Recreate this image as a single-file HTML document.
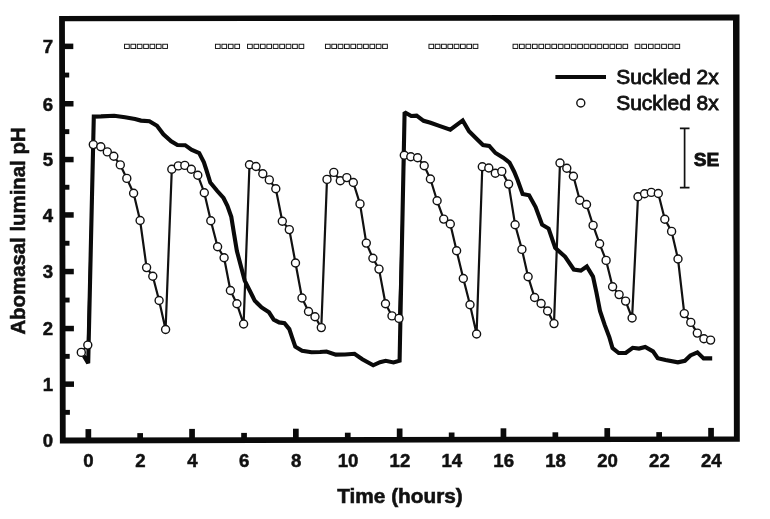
<!DOCTYPE html>
<html><head><meta charset="utf-8"><title>Abomasal luminal pH</title>
<style>
html,body{margin:0;padding:0;background:#fff;}
body{width:770px;height:519px;overflow:hidden;}
svg{display:block;filter:grayscale(1);}
text{font-family:"Liberation Sans",Arial,sans-serif;fill:#111;}
.b{font-weight:bold;}
</style></head><body>
<svg width="770" height="519" viewBox="0 0 770 519">
<rect x="0" y="0" width="770" height="519" fill="#fff"/>
<path fill-rule="evenodd" fill="#0a0a0a" d="M59.1 16L739.5 14.5L739.8 441.8L59.9 443.4ZM64.9 21.2L65.7 437.6L733.9 436.4L733 20.6Z"/>
<rect x="62" y="43.6" width="11.3" height="5.5" fill="#0a0a0a"/>
<rect x="62" y="101.0" width="11.5" height="5.5" fill="#0a0a0a"/>
<rect x="62" y="156.8" width="11.6" height="5.5" fill="#0a0a0a"/>
<rect x="62" y="212.2" width="11.7" height="5.5" fill="#0a0a0a"/>
<rect x="62" y="268.8" width="11.8" height="5.5" fill="#0a0a0a"/>
<rect x="62" y="325.8" width="11.9" height="5.5" fill="#0a0a0a"/>
<rect x="62" y="381.4" width="12.0" height="5.5" fill="#0a0a0a"/>
<rect x="62" y="409.9" width="7.9" height="4.9" fill="#0a0a0a"/>
<rect x="62" y="353.9" width="7.7" height="4.9" fill="#0a0a0a"/>
<rect x="62" y="297.6" width="7.6" height="4.9" fill="#0a0a0a"/>
<rect x="62" y="240.8" width="7.5" height="4.9" fill="#0a0a0a"/>
<rect x="62" y="184.8" width="7.4" height="4.9" fill="#0a0a0a"/>
<rect x="62" y="129.2" width="7.3" height="4.9" fill="#0a0a0a"/>
<rect x="62" y="72.6" width="7.2" height="4.9" fill="#0a0a0a"/>
<rect x="85.5" y="429.1" width="5.7" height="10.5" fill="#0a0a0a"/>
<rect x="137.3" y="433.1" width="5.7" height="6.4" fill="#0a0a0a"/>
<rect x="189.2" y="428.9" width="5.7" height="10.5" fill="#0a0a0a"/>
<rect x="241.2" y="432.9" width="5.7" height="6.4" fill="#0a0a0a"/>
<rect x="293.0" y="428.7" width="5.7" height="10.5" fill="#0a0a0a"/>
<rect x="344.9" y="432.7" width="5.7" height="6.4" fill="#0a0a0a"/>
<rect x="396.8" y="428.5" width="5.7" height="10.5" fill="#0a0a0a"/>
<rect x="448.8" y="432.5" width="5.7" height="6.4" fill="#0a0a0a"/>
<rect x="500.6" y="428.3" width="5.7" height="10.5" fill="#0a0a0a"/>
<rect x="552.5" y="432.3" width="5.7" height="6.4" fill="#0a0a0a"/>
<rect x="604.4" y="428.1" width="5.7" height="10.5" fill="#0a0a0a"/>
<rect x="656.3" y="432.1" width="5.7" height="6.4" fill="#0a0a0a"/>
<rect x="708.2" y="427.9" width="5.7" height="10.5" fill="#0a0a0a"/>
<text class="b" x="53.2" y="53.1" font-size="18.6" text-anchor="end" stroke="#111" stroke-width="0.5">7</text>
<text class="b" x="53.2" y="110.5" font-size="18.6" text-anchor="end" stroke="#111" stroke-width="0.5">6</text>
<text class="b" x="53.2" y="166.2" font-size="18.6" text-anchor="end" stroke="#111" stroke-width="0.5">5</text>
<text class="b" x="53.2" y="221.7" font-size="18.6" text-anchor="end" stroke="#111" stroke-width="0.5">4</text>
<text class="b" x="53.2" y="278.2" font-size="18.6" text-anchor="end" stroke="#111" stroke-width="0.5">3</text>
<text class="b" x="53.2" y="335.2" font-size="18.6" text-anchor="end" stroke="#111" stroke-width="0.5">2</text>
<text class="b" x="53.2" y="390.8" font-size="18.6" text-anchor="end" stroke="#111" stroke-width="0.5">1</text>
<text class="b" x="53.2" y="447.2" font-size="18.6" text-anchor="end" stroke="#111" stroke-width="0.5">0</text>
<text class="b" x="88.5" y="467.1" font-size="18.6" text-anchor="middle" stroke="#111" stroke-width="0.5">0</text>
<text class="b" x="140.4" y="467.1" font-size="18.6" text-anchor="middle" stroke="#111" stroke-width="0.5">2</text>
<text class="b" x="192.3" y="467.1" font-size="18.6" text-anchor="middle" stroke="#111" stroke-width="0.5">4</text>
<text class="b" x="244.2" y="467.1" font-size="18.6" text-anchor="middle" stroke="#111" stroke-width="0.5">6</text>
<text class="b" x="296.1" y="467.1" font-size="18.6" text-anchor="middle" stroke="#111" stroke-width="0.5">8</text>
<text class="b" x="348.0" y="467.1" font-size="18.6" text-anchor="middle" stroke="#111" stroke-width="0.5">10</text>
<text class="b" x="399.9" y="467.1" font-size="18.6" text-anchor="middle" stroke="#111" stroke-width="0.5">12</text>
<text class="b" x="451.8" y="467.1" font-size="18.6" text-anchor="middle" stroke="#111" stroke-width="0.5">14</text>
<text class="b" x="503.7" y="467.1" font-size="18.6" text-anchor="middle" stroke="#111" stroke-width="0.5">16</text>
<text class="b" x="555.6" y="467.1" font-size="18.6" text-anchor="middle" stroke="#111" stroke-width="0.5">18</text>
<text class="b" x="607.5" y="467.1" font-size="18.6" text-anchor="middle" stroke="#111" stroke-width="0.5">20</text>
<text class="b" x="659.4" y="467.1" font-size="18.6" text-anchor="middle" stroke="#111" stroke-width="0.5">22</text>
<text class="b" x="711.3" y="467.1" font-size="18.6" text-anchor="middle" stroke="#111" stroke-width="0.5">24</text>
<text class="b" x="337.2" y="503.4" font-size="19.5" textLength="125.6" lengthAdjust="spacingAndGlyphs" stroke="#111" stroke-width="0.55">Time (hours)</text>
<text class="b" transform="translate(24.5,334.6) rotate(-90)" font-size="20" textLength="207.2" lengthAdjust="spacingAndGlyphs" stroke="#111" stroke-width="0.55">Abomasal luminal pH</text>
<rect x="124.55" y="44.25" width="4.7" height="4.2" fill="#fff" stroke="#111" stroke-width="0.95"/>
<rect x="130.92" y="44.25" width="4.7" height="4.2" fill="#fff" stroke="#111" stroke-width="0.95"/>
<rect x="137.28" y="44.25" width="4.7" height="4.2" fill="#fff" stroke="#111" stroke-width="0.95"/>
<rect x="143.65" y="44.25" width="4.7" height="4.2" fill="#fff" stroke="#111" stroke-width="0.95"/>
<rect x="150.02" y="44.25" width="4.7" height="4.2" fill="#fff" stroke="#111" stroke-width="0.95"/>
<rect x="156.38" y="44.25" width="4.7" height="4.2" fill="#fff" stroke="#111" stroke-width="0.95"/>
<rect x="162.75" y="44.25" width="4.7" height="4.2" fill="#fff" stroke="#111" stroke-width="0.95"/>
<rect x="215.45" y="44.25" width="4.7" height="4.2" fill="#fff" stroke="#111" stroke-width="0.95"/>
<rect x="221.92" y="44.25" width="4.7" height="4.2" fill="#fff" stroke="#111" stroke-width="0.95"/>
<rect x="228.38" y="44.25" width="4.7" height="4.2" fill="#fff" stroke="#111" stroke-width="0.95"/>
<rect x="234.85" y="44.25" width="4.7" height="4.2" fill="#fff" stroke="#111" stroke-width="0.95"/>
<rect x="247.55" y="44.25" width="4.7" height="4.2" fill="#fff" stroke="#111" stroke-width="0.95"/>
<rect x="253.99" y="44.25" width="4.7" height="4.2" fill="#fff" stroke="#111" stroke-width="0.95"/>
<rect x="260.42" y="44.25" width="4.7" height="4.2" fill="#fff" stroke="#111" stroke-width="0.95"/>
<rect x="266.86" y="44.25" width="4.7" height="4.2" fill="#fff" stroke="#111" stroke-width="0.95"/>
<rect x="273.30" y="44.25" width="4.7" height="4.2" fill="#fff" stroke="#111" stroke-width="0.95"/>
<rect x="279.74" y="44.25" width="4.7" height="4.2" fill="#fff" stroke="#111" stroke-width="0.95"/>
<rect x="286.17" y="44.25" width="4.7" height="4.2" fill="#fff" stroke="#111" stroke-width="0.95"/>
<rect x="292.61" y="44.25" width="4.7" height="4.2" fill="#fff" stroke="#111" stroke-width="0.95"/>
<rect x="299.05" y="44.25" width="4.7" height="4.2" fill="#fff" stroke="#111" stroke-width="0.95"/>
<rect x="325.45" y="44.25" width="4.7" height="4.2" fill="#fff" stroke="#111" stroke-width="0.95"/>
<rect x="331.81" y="44.25" width="4.7" height="4.2" fill="#fff" stroke="#111" stroke-width="0.95"/>
<rect x="338.16" y="44.25" width="4.7" height="4.2" fill="#fff" stroke="#111" stroke-width="0.95"/>
<rect x="344.52" y="44.25" width="4.7" height="4.2" fill="#fff" stroke="#111" stroke-width="0.95"/>
<rect x="350.87" y="44.25" width="4.7" height="4.2" fill="#fff" stroke="#111" stroke-width="0.95"/>
<rect x="357.23" y="44.25" width="4.7" height="4.2" fill="#fff" stroke="#111" stroke-width="0.95"/>
<rect x="363.58" y="44.25" width="4.7" height="4.2" fill="#fff" stroke="#111" stroke-width="0.95"/>
<rect x="369.94" y="44.25" width="4.7" height="4.2" fill="#fff" stroke="#111" stroke-width="0.95"/>
<rect x="376.29" y="44.25" width="4.7" height="4.2" fill="#fff" stroke="#111" stroke-width="0.95"/>
<rect x="382.65" y="44.25" width="4.7" height="4.2" fill="#fff" stroke="#111" stroke-width="0.95"/>
<rect x="428.95" y="44.25" width="4.7" height="4.2" fill="#fff" stroke="#111" stroke-width="0.95"/>
<rect x="435.26" y="44.25" width="4.7" height="4.2" fill="#fff" stroke="#111" stroke-width="0.95"/>
<rect x="441.58" y="44.25" width="4.7" height="4.2" fill="#fff" stroke="#111" stroke-width="0.95"/>
<rect x="447.89" y="44.25" width="4.7" height="4.2" fill="#fff" stroke="#111" stroke-width="0.95"/>
<rect x="454.21" y="44.25" width="4.7" height="4.2" fill="#fff" stroke="#111" stroke-width="0.95"/>
<rect x="460.52" y="44.25" width="4.7" height="4.2" fill="#fff" stroke="#111" stroke-width="0.95"/>
<rect x="466.84" y="44.25" width="4.7" height="4.2" fill="#fff" stroke="#111" stroke-width="0.95"/>
<rect x="473.15" y="44.25" width="4.7" height="4.2" fill="#fff" stroke="#111" stroke-width="0.95"/>
<rect x="513.05" y="44.25" width="4.7" height="4.2" fill="#fff" stroke="#111" stroke-width="0.95"/>
<rect x="519.51" y="44.25" width="4.7" height="4.2" fill="#fff" stroke="#111" stroke-width="0.95"/>
<rect x="525.98" y="44.25" width="4.7" height="4.2" fill="#fff" stroke="#111" stroke-width="0.95"/>
<rect x="532.44" y="44.25" width="4.7" height="4.2" fill="#fff" stroke="#111" stroke-width="0.95"/>
<rect x="538.91" y="44.25" width="4.7" height="4.2" fill="#fff" stroke="#111" stroke-width="0.95"/>
<rect x="545.37" y="44.25" width="4.7" height="4.2" fill="#fff" stroke="#111" stroke-width="0.95"/>
<rect x="551.84" y="44.25" width="4.7" height="4.2" fill="#fff" stroke="#111" stroke-width="0.95"/>
<rect x="558.30" y="44.25" width="4.7" height="4.2" fill="#fff" stroke="#111" stroke-width="0.95"/>
<rect x="564.77" y="44.25" width="4.7" height="4.2" fill="#fff" stroke="#111" stroke-width="0.95"/>
<rect x="571.23" y="44.25" width="4.7" height="4.2" fill="#fff" stroke="#111" stroke-width="0.95"/>
<rect x="577.70" y="44.25" width="4.7" height="4.2" fill="#fff" stroke="#111" stroke-width="0.95"/>
<rect x="584.16" y="44.25" width="4.7" height="4.2" fill="#fff" stroke="#111" stroke-width="0.95"/>
<rect x="590.63" y="44.25" width="4.7" height="4.2" fill="#fff" stroke="#111" stroke-width="0.95"/>
<rect x="597.09" y="44.25" width="4.7" height="4.2" fill="#fff" stroke="#111" stroke-width="0.95"/>
<rect x="603.56" y="44.25" width="4.7" height="4.2" fill="#fff" stroke="#111" stroke-width="0.95"/>
<rect x="610.02" y="44.25" width="4.7" height="4.2" fill="#fff" stroke="#111" stroke-width="0.95"/>
<rect x="616.49" y="44.25" width="4.7" height="4.2" fill="#fff" stroke="#111" stroke-width="0.95"/>
<rect x="622.95" y="44.25" width="4.7" height="4.2" fill="#fff" stroke="#111" stroke-width="0.95"/>
<rect x="635.15" y="44.25" width="4.7" height="4.2" fill="#fff" stroke="#111" stroke-width="0.95"/>
<rect x="641.78" y="44.25" width="4.7" height="4.2" fill="#fff" stroke="#111" stroke-width="0.95"/>
<rect x="648.42" y="44.25" width="4.7" height="4.2" fill="#fff" stroke="#111" stroke-width="0.95"/>
<rect x="655.05" y="44.25" width="4.7" height="4.2" fill="#fff" stroke="#111" stroke-width="0.95"/>
<rect x="661.68" y="44.25" width="4.7" height="4.2" fill="#fff" stroke="#111" stroke-width="0.95"/>
<rect x="668.32" y="44.25" width="4.7" height="4.2" fill="#fff" stroke="#111" stroke-width="0.95"/>
<rect x="674.95" y="44.25" width="4.7" height="4.2" fill="#fff" stroke="#111" stroke-width="0.95"/>
<line x1="555.4" y1="77.1" x2="606" y2="77.1" stroke="#0a0a0a" stroke-width="4"/>
<circle cx="580.8" cy="103" r="4.0" fill="#fff" stroke="#111" stroke-width="1.4"/>
<text x="616.2" y="84" font-size="20" textLength="102.6" lengthAdjust="spacingAndGlyphs" stroke="#111" stroke-width="0.8">Suckled 2x</text>
<text x="616.2" y="109.9" font-size="20" textLength="102.6" lengthAdjust="spacingAndGlyphs" stroke="#111" stroke-width="0.8">Suckled 8x</text>
<path d="M684.6 128.3V187.7M679.9 128.3H689.5M679.9 187.7H689.5" fill="none" stroke="#111" stroke-width="1.7"/>
<text class="b" x="693.7" y="166.1" font-size="18.6" textLength="25.6" lengthAdjust="spacingAndGlyphs" stroke="#111" stroke-width="0.8">SE</text>
<polyline points="81.3,352.4 87.8,345.1 93.3,144.6 100.8,146.7 107.3,151.9 113.8,156.3 120.3,164.9 126.8,178.4 133.6,193.3 140.1,220.5 146.6,267.6 152.8,276.2 159.1,300.5 165.6,329.5 171.8,169.3 178.3,165.9 184.8,165.4 191.3,169.3 197.8,175.3 204.3,192.7 210.8,220.8 217.6,246.8 224.1,257.7 230.4,290.5 236.9,303.8 243.6,324.0 249.5,164.8 256.0,166.5 262.8,173.7 269.3,179.9 275.8,188.8 282.3,221.3 289.3,229.6 295.5,263.0 302.0,298.0 308.5,311.5 315.0,316.7 321.3,327.6 327.0,179.4 333.8,172.4 340.3,180.7 346.8,177.6 353.3,182.5 360.0,203.9 366.3,243.1 372.9,258.2 379.0,269.1 385.5,303.7 392.0,315.9 399.0,318.4 404.3,155.2 410.8,156.8 417.6,157.7 424.2,165.8 430.4,179.0 437.1,200.8 443.7,219.1 450.3,224.0 456.6,250.7 463.3,278.5 470.0,304.8 476.6,334.0 482.3,166.7 488.8,168.0 495.3,173.2 501.8,171.4 508.6,184.1 515.1,224.7 521.9,249.4 528.1,276.7 534.6,297.5 541.1,303.5 547.6,311.0 554.0,323.6 560.0,163.0 566.8,168.3 573.4,176.3 579.8,200.3 586.5,204.5 593.1,225.4 599.6,243.8 606.1,260.4 612.6,286.8 619.1,294.6 625.6,301.1 632.1,318.0 638.0,196.8 644.6,193.7 651.3,192.4 658.3,193.5 664.8,219.2 671.6,231.4 678.0,259.0 684.3,313.6 690.8,322.4 697.3,333.1 703.9,338.8 710.6,340.1" fill="none" stroke="#111" stroke-width="2.2" stroke-linejoin="round"/>
<polyline points="83.6,355.5 88.2,363.2 93.8,116.6 101.0,116.4 114.2,115.7 125.0,117.2 135.0,119.0 141.0,120.6 149.4,121.3 157.0,125.7 163.4,134.3 171.2,141.3 177.4,145.0 185.2,145.2 191.4,149.7 199.2,153.0 203.9,162.3 206.4,170.0 210.3,182.5 217.3,191.0 223.5,198.0 227.4,205.8 231.3,216.8 233.8,232.3 236.9,251.0 244.7,280.6 249.4,290.0 254.8,300.8 261.6,307.5 269.0,312.3 273.7,319.7 279.1,322.4 284.5,323.1 289.3,329.1 292.0,337.2 295.3,346.7 302.1,350.7 311.5,352.3 320.0,352.0 326.5,351.5 335.8,354.6 345.0,354.5 354.5,353.8 362.3,359.2 373.2,365.3 380.0,362.2 385.7,360.8 393.5,362.4 399.6,360.6 404.6,112.2 411.2,116.0 416.6,115.7 423.6,120.8 430.5,122.8 440.0,126.1 450.3,129.6 462.7,120.4 469.0,131.2 476.8,139.0 483.0,145.0 489.2,146.0 495.5,153.0 503.2,157.7 509.5,162.5 514.2,171.7 517.6,180.0 522.6,194.0 529.1,195.3 535.6,207.0 542.1,224.7 548.6,228.6 555.2,247.9 565.2,256.8 573.8,269.5 580.8,270.6 586.8,266.5 593.0,276.6 596.4,292.3 600.0,311.0 604.7,324.9 609.4,337.4 612.5,348.0 618.7,353.0 625.7,353.0 632.7,347.8 639.0,348.6 645.2,347.0 653.0,351.4 657.7,358.2 665.5,360.0 677.9,362.3 684.9,360.8 690.4,355.5 697.4,352.4 703.6,358.4 712.2,358.4" fill="none" stroke="#0a0a0a" stroke-width="4.1" stroke-linejoin="miter" stroke-miterlimit="1.6" stroke-linecap="butt"/>
<circle cx="81.3" cy="352.4" r="4.0" fill="#fff" stroke="#111" stroke-width="1.4"/>
<circle cx="87.8" cy="345.1" r="4.0" fill="#fff" stroke="#111" stroke-width="1.4"/>
<circle cx="93.3" cy="144.6" r="4.0" fill="#fff" stroke="#111" stroke-width="1.4"/>
<circle cx="100.8" cy="146.7" r="4.0" fill="#fff" stroke="#111" stroke-width="1.4"/>
<circle cx="107.3" cy="151.9" r="4.0" fill="#fff" stroke="#111" stroke-width="1.4"/>
<circle cx="113.8" cy="156.3" r="4.0" fill="#fff" stroke="#111" stroke-width="1.4"/>
<circle cx="120.3" cy="164.9" r="4.0" fill="#fff" stroke="#111" stroke-width="1.4"/>
<circle cx="126.8" cy="178.4" r="4.0" fill="#fff" stroke="#111" stroke-width="1.4"/>
<circle cx="133.6" cy="193.3" r="4.0" fill="#fff" stroke="#111" stroke-width="1.4"/>
<circle cx="140.1" cy="220.5" r="4.0" fill="#fff" stroke="#111" stroke-width="1.4"/>
<circle cx="146.6" cy="267.6" r="4.0" fill="#fff" stroke="#111" stroke-width="1.4"/>
<circle cx="152.8" cy="276.2" r="4.0" fill="#fff" stroke="#111" stroke-width="1.4"/>
<circle cx="159.1" cy="300.5" r="4.0" fill="#fff" stroke="#111" stroke-width="1.4"/>
<circle cx="165.6" cy="329.5" r="4.0" fill="#fff" stroke="#111" stroke-width="1.4"/>
<circle cx="171.8" cy="169.3" r="4.0" fill="#fff" stroke="#111" stroke-width="1.4"/>
<circle cx="178.3" cy="165.9" r="4.0" fill="#fff" stroke="#111" stroke-width="1.4"/>
<circle cx="184.8" cy="165.4" r="4.0" fill="#fff" stroke="#111" stroke-width="1.4"/>
<circle cx="191.3" cy="169.3" r="4.0" fill="#fff" stroke="#111" stroke-width="1.4"/>
<circle cx="197.8" cy="175.3" r="4.0" fill="#fff" stroke="#111" stroke-width="1.4"/>
<circle cx="204.3" cy="192.7" r="4.0" fill="#fff" stroke="#111" stroke-width="1.4"/>
<circle cx="210.8" cy="220.8" r="4.0" fill="#fff" stroke="#111" stroke-width="1.4"/>
<circle cx="217.6" cy="246.8" r="4.0" fill="#fff" stroke="#111" stroke-width="1.4"/>
<circle cx="224.1" cy="257.7" r="4.0" fill="#fff" stroke="#111" stroke-width="1.4"/>
<circle cx="230.4" cy="290.5" r="4.0" fill="#fff" stroke="#111" stroke-width="1.4"/>
<circle cx="236.9" cy="303.8" r="4.0" fill="#fff" stroke="#111" stroke-width="1.4"/>
<circle cx="243.6" cy="324.0" r="4.0" fill="#fff" stroke="#111" stroke-width="1.4"/>
<circle cx="249.5" cy="164.8" r="4.0" fill="#fff" stroke="#111" stroke-width="1.4"/>
<circle cx="256.0" cy="166.5" r="4.0" fill="#fff" stroke="#111" stroke-width="1.4"/>
<circle cx="262.8" cy="173.7" r="4.0" fill="#fff" stroke="#111" stroke-width="1.4"/>
<circle cx="269.3" cy="179.9" r="4.0" fill="#fff" stroke="#111" stroke-width="1.4"/>
<circle cx="275.8" cy="188.8" r="4.0" fill="#fff" stroke="#111" stroke-width="1.4"/>
<circle cx="282.3" cy="221.3" r="4.0" fill="#fff" stroke="#111" stroke-width="1.4"/>
<circle cx="289.3" cy="229.6" r="4.0" fill="#fff" stroke="#111" stroke-width="1.4"/>
<circle cx="295.5" cy="263.0" r="4.0" fill="#fff" stroke="#111" stroke-width="1.4"/>
<circle cx="302.0" cy="298.0" r="4.0" fill="#fff" stroke="#111" stroke-width="1.4"/>
<circle cx="308.5" cy="311.5" r="4.0" fill="#fff" stroke="#111" stroke-width="1.4"/>
<circle cx="315.0" cy="316.7" r="4.0" fill="#fff" stroke="#111" stroke-width="1.4"/>
<circle cx="321.3" cy="327.6" r="4.0" fill="#fff" stroke="#111" stroke-width="1.4"/>
<circle cx="327.0" cy="179.4" r="4.0" fill="#fff" stroke="#111" stroke-width="1.4"/>
<circle cx="333.8" cy="172.4" r="4.0" fill="#fff" stroke="#111" stroke-width="1.4"/>
<circle cx="340.3" cy="180.7" r="4.0" fill="#fff" stroke="#111" stroke-width="1.4"/>
<circle cx="346.8" cy="177.6" r="4.0" fill="#fff" stroke="#111" stroke-width="1.4"/>
<circle cx="353.3" cy="182.5" r="4.0" fill="#fff" stroke="#111" stroke-width="1.4"/>
<circle cx="360.0" cy="203.9" r="4.0" fill="#fff" stroke="#111" stroke-width="1.4"/>
<circle cx="366.3" cy="243.1" r="4.0" fill="#fff" stroke="#111" stroke-width="1.4"/>
<circle cx="372.9" cy="258.2" r="4.0" fill="#fff" stroke="#111" stroke-width="1.4"/>
<circle cx="379.0" cy="269.1" r="4.0" fill="#fff" stroke="#111" stroke-width="1.4"/>
<circle cx="385.5" cy="303.7" r="4.0" fill="#fff" stroke="#111" stroke-width="1.4"/>
<circle cx="392.0" cy="315.9" r="4.0" fill="#fff" stroke="#111" stroke-width="1.4"/>
<circle cx="399.0" cy="318.4" r="4.0" fill="#fff" stroke="#111" stroke-width="1.4"/>
<circle cx="404.3" cy="155.2" r="4.0" fill="#fff" stroke="#111" stroke-width="1.4"/>
<circle cx="410.8" cy="156.8" r="4.0" fill="#fff" stroke="#111" stroke-width="1.4"/>
<circle cx="417.6" cy="157.7" r="4.0" fill="#fff" stroke="#111" stroke-width="1.4"/>
<circle cx="424.2" cy="165.8" r="4.0" fill="#fff" stroke="#111" stroke-width="1.4"/>
<circle cx="430.4" cy="179.0" r="4.0" fill="#fff" stroke="#111" stroke-width="1.4"/>
<circle cx="437.1" cy="200.8" r="4.0" fill="#fff" stroke="#111" stroke-width="1.4"/>
<circle cx="443.7" cy="219.1" r="4.0" fill="#fff" stroke="#111" stroke-width="1.4"/>
<circle cx="450.3" cy="224.0" r="4.0" fill="#fff" stroke="#111" stroke-width="1.4"/>
<circle cx="456.6" cy="250.7" r="4.0" fill="#fff" stroke="#111" stroke-width="1.4"/>
<circle cx="463.3" cy="278.5" r="4.0" fill="#fff" stroke="#111" stroke-width="1.4"/>
<circle cx="470.0" cy="304.8" r="4.0" fill="#fff" stroke="#111" stroke-width="1.4"/>
<circle cx="476.6" cy="334.0" r="4.0" fill="#fff" stroke="#111" stroke-width="1.4"/>
<circle cx="482.3" cy="166.7" r="4.0" fill="#fff" stroke="#111" stroke-width="1.4"/>
<circle cx="488.8" cy="168.0" r="4.0" fill="#fff" stroke="#111" stroke-width="1.4"/>
<circle cx="495.3" cy="173.2" r="4.0" fill="#fff" stroke="#111" stroke-width="1.4"/>
<circle cx="501.8" cy="171.4" r="4.0" fill="#fff" stroke="#111" stroke-width="1.4"/>
<circle cx="508.6" cy="184.1" r="4.0" fill="#fff" stroke="#111" stroke-width="1.4"/>
<circle cx="515.1" cy="224.7" r="4.0" fill="#fff" stroke="#111" stroke-width="1.4"/>
<circle cx="521.9" cy="249.4" r="4.0" fill="#fff" stroke="#111" stroke-width="1.4"/>
<circle cx="528.1" cy="276.7" r="4.0" fill="#fff" stroke="#111" stroke-width="1.4"/>
<circle cx="534.6" cy="297.5" r="4.0" fill="#fff" stroke="#111" stroke-width="1.4"/>
<circle cx="541.1" cy="303.5" r="4.0" fill="#fff" stroke="#111" stroke-width="1.4"/>
<circle cx="547.6" cy="311.0" r="4.0" fill="#fff" stroke="#111" stroke-width="1.4"/>
<circle cx="554.0" cy="323.6" r="4.0" fill="#fff" stroke="#111" stroke-width="1.4"/>
<circle cx="560.0" cy="163.0" r="4.0" fill="#fff" stroke="#111" stroke-width="1.4"/>
<circle cx="566.8" cy="168.3" r="4.0" fill="#fff" stroke="#111" stroke-width="1.4"/>
<circle cx="573.4" cy="176.3" r="4.0" fill="#fff" stroke="#111" stroke-width="1.4"/>
<circle cx="579.8" cy="200.3" r="4.0" fill="#fff" stroke="#111" stroke-width="1.4"/>
<circle cx="586.5" cy="204.5" r="4.0" fill="#fff" stroke="#111" stroke-width="1.4"/>
<circle cx="593.1" cy="225.4" r="4.0" fill="#fff" stroke="#111" stroke-width="1.4"/>
<circle cx="599.6" cy="243.8" r="4.0" fill="#fff" stroke="#111" stroke-width="1.4"/>
<circle cx="606.1" cy="260.4" r="4.0" fill="#fff" stroke="#111" stroke-width="1.4"/>
<circle cx="612.6" cy="286.8" r="4.0" fill="#fff" stroke="#111" stroke-width="1.4"/>
<circle cx="619.1" cy="294.6" r="4.0" fill="#fff" stroke="#111" stroke-width="1.4"/>
<circle cx="625.6" cy="301.1" r="4.0" fill="#fff" stroke="#111" stroke-width="1.4"/>
<circle cx="632.1" cy="318.0" r="4.0" fill="#fff" stroke="#111" stroke-width="1.4"/>
<circle cx="638.0" cy="196.8" r="4.0" fill="#fff" stroke="#111" stroke-width="1.4"/>
<circle cx="644.6" cy="193.7" r="4.0" fill="#fff" stroke="#111" stroke-width="1.4"/>
<circle cx="651.3" cy="192.4" r="4.0" fill="#fff" stroke="#111" stroke-width="1.4"/>
<circle cx="658.3" cy="193.5" r="4.0" fill="#fff" stroke="#111" stroke-width="1.4"/>
<circle cx="664.8" cy="219.2" r="4.0" fill="#fff" stroke="#111" stroke-width="1.4"/>
<circle cx="671.6" cy="231.4" r="4.0" fill="#fff" stroke="#111" stroke-width="1.4"/>
<circle cx="678.0" cy="259.0" r="4.0" fill="#fff" stroke="#111" stroke-width="1.4"/>
<circle cx="684.3" cy="313.6" r="4.0" fill="#fff" stroke="#111" stroke-width="1.4"/>
<circle cx="690.8" cy="322.4" r="4.0" fill="#fff" stroke="#111" stroke-width="1.4"/>
<circle cx="697.3" cy="333.1" r="4.0" fill="#fff" stroke="#111" stroke-width="1.4"/>
<circle cx="703.9" cy="338.8" r="4.0" fill="#fff" stroke="#111" stroke-width="1.4"/>
<circle cx="710.6" cy="340.1" r="4.0" fill="#fff" stroke="#111" stroke-width="1.4"/>
</svg>
</body></html>
